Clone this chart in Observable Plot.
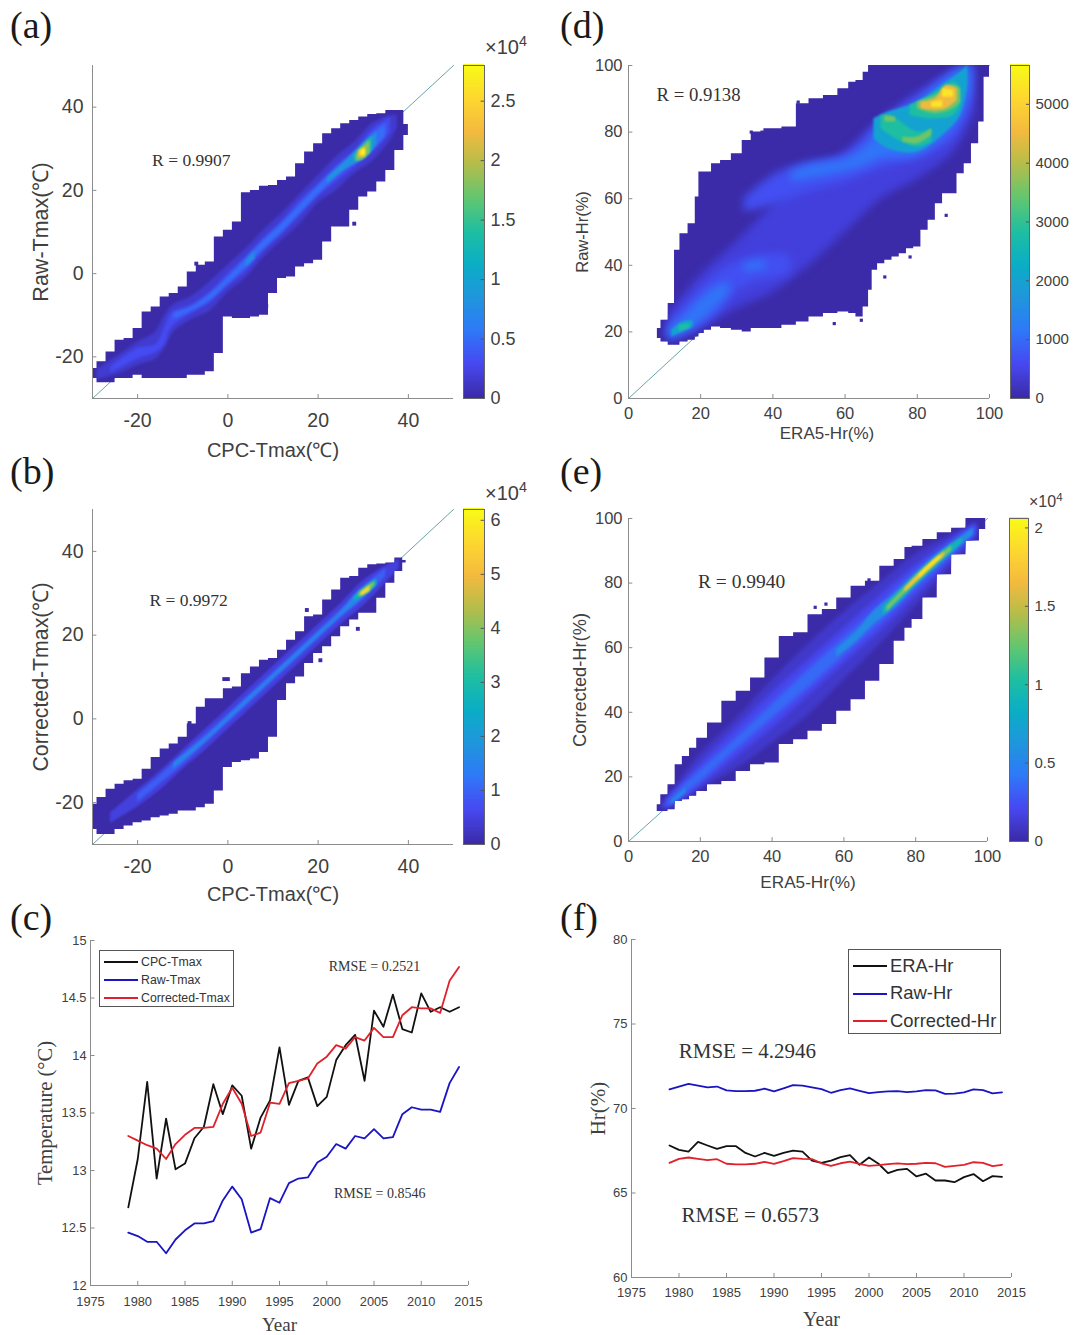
<!DOCTYPE html>
<html>
<head>
<meta charset="utf-8">
<script src="https://cdn.jsdelivr.net/npm/d3@7"></script>
<script src="https://cdn.jsdelivr.net/npm/@observablehq/plot@0.6"></script>
<style>
html,body{margin:0;padding:0;background:#fff}
#page{position:relative;width:1083px;height:1335px;overflow:hidden;background:#fff}
#page svg{position:absolute;background:transparent;overflow:visible}
.tag{position:absolute;font-family:"Liberation Serif",serif;font-size:38px;color:#1a1a1a;line-height:1}
.mult{position:absolute;font-family:"Liberation Sans",sans-serif;color:#404040;line-height:1;white-space:nowrap}
.mult sup{font-size:.72em;line-height:0}
.leg{position:absolute;box-sizing:border-box;border:1px solid #555;background:#fff;font-family:"Liberation Sans",sans-serif;color:#333}
.leg div{position:absolute;white-space:nowrap;line-height:1}
.leg i{position:absolute;display:block}
</style>
</head>
<body>
<div id="page"></div>
<script>
// ---------- colour map ----------
const parula = ["#3b2ba8","#4748f1","#2f78f8","#1f96dc","#0aaec5","#1fbfa0","#63c66f","#b4bd4a","#f4ba3e","#fdd82f","#f9fb15"];

// ---------- panel (a): [x, low, high] ----------
const aEnv = [[-30,-25.2,-22.8],[-28,-26.2,-21.2],[-26,-26.2,-18.8],[-24,-25.2,-16],[-22,-25.2,-15.6],[-20,-24.4,-13.2],[-18,-25.2,-9.2],[-16,-25.2,-8],[-14,-25.2,-5.6],[-12,-25.2,-4.8],[-10,-25.2,-3.2],[-8,-24.4,0.4],[-6,-24.4,2],[-4,-23.6,2.8],[-2,-19.2,8.8],[0,-10.4,10.4],[2,-10.8,12.4],[4,-10.8,19.4],[6,-10.4,20],[8,-10,21],[10,-4.8,21.2],[12,-1.2,22.4],[14,-0.8,23.2],[16,1.6,26.4],[18,2.4,29.2],[20,3.2,31.2],[22,7.6,33.6],[24,11.2,34.8],[26,11.2,36],[28,15.2,36.8],[30,18.4,37.6],[32,19.6,38.2],[34,22,38.4],[36,24.8,39.2],[38,29.6,39.2],[40,33.2,35.8]];
const aB1 = [[-29,-25.5,-23],[-24,-24,-19.5],[-20,-22,-16.5],[-16,-20.5,-14],[-14,-18,-10],[-12,-14,-7.5],[-8,-11,-5.5],[-4,-9,-2],[0,-4.5,2],[4,-1,6],[8,4,10.5],[12,8,14.5],[16,12,19],[20,17,23.5],[24,20,28],[28,24,31.5],[32,27,36],[36,32,38],[37.5,35,38]];
const aB2 = [[-26,-24,-22.5],[-20,-20.5,-18],[-16,-19,-17],[-14,-17,-13],[-12.5,-13,-9.5],[-8,-9.5,-7.5],[-4,-7,-4.5],[0,-3,0],[4,0.5,4],[8,5.5,8.5],[12,9.5,12.5],[16,14,17.5],[20,18.5,21.5],[24,22,26],[28,25.5,29.5],[32,29,34.5],[36,34,37.5]];
const aB3 = [[-12,-11,-9.5],[-8,-9,-8],[-4,-6.5,-5],[0,-2.5,-1],[4,1.5,3.5],[8,6,8],[12,10,12],[16,14.5,16.5],[20,19,21],[24,23,25],[28,26.5,29],[32,29.5,33.5],[35,33,36]];
const aB4 = [[4,1.5,3],[6,3.5,5.5]];
const aB5 = [[22,21.5,23],[26,25,27],[28.5,26.5,29.5],[31,28.5,32],[33,31,34]];
const aB6 = [[28,27,28.5],[30,27.5,31],[32,29.5,33]];
const aB7 = [[28.5,27,28.5],[30,27.5,30.5],[31.5,29,32]];
const aB8 = [[29,28,29.5],[30.5,28,30.5]];
const aB9 = [[29.5,28.3,29.5],[30.5,28.5,30]];
const aBands = [[0.15,aB1],[0.3,aB2],[0.5,aB3],[0.75,aB4],[0.8,aB5],[1.3,aB6],[1.8,aB7],[2.3,aB8],[2.75,aB9]];

// ---------- panel (b) ----------
const bEnv = [[-30,-26.4,-20.4],[-28,-27.6,-18.8],[-26,-27.6,-16.8],[-24,-26.4,-15.6],[-22,-25.6,-14.8],[-20,-24.8,-14.4],[-18,-24.4,-12],[-16,-23.6,-9.2],[-14,-23.2,-7.2],[-12,-22.8,-6],[-10,-22,-4.4],[-8,-22,-1.2],[-6,-21.2,2.8],[-4,-20.4,4.8],[-2,-17.2,4.8],[0,-11.6,7.2],[2,-10.4,7.6],[4,-10,10.8],[6,-9.6,12.4],[8,-8,14],[10,-4.4,14.4],[12,4.4,16.4],[14,8.4,18.8],[16,10,20.8],[18,13.2,24.4],[20,15.6,24.8],[22,17.2,28.4],[24,19.6,30.8],[26,22,33.6],[28,23.6,34],[30,25.2,36],[32,25.2,36.8],[34,28.8,37],[36,32.4,37.2],[38,35.2,38.4],[39.5,37.2,37.8]];
const bB1 = [[-26,-25,-22.5],[-20,-21,-17],[-15,-17,-12.5],[-10,-12,-7.5],[-5,-7.5,-2.5],[0,-2.5,2.5],[5,2.5,7.5],[10,7.5,12.5],[15,12.5,17.5],[20,17.5,22.5],[25,22.5,27.5],[30,27,33],[35,32.5,36.5],[38,36,38]];
const bB2 = [[-20,-20,-18],[-15,-15.5,-13.5],[-10,-11,-8.5],[-5,-6,-3.8],[0,-1,1],[5,4,6],[10,9,11],[15,14,16],[20,19,21],[25,24,26],[30,28.5,31.5],[35,34,36]];
const bB3 = [[-12,-12,-10.5],[-5,-5.5,-4.5],[0,-0.5,0.5],[5,4.5,5.5],[10,9.5,10.5],[15,14.5,15.5],[20,19.5,20.5],[25,24.5,25.5],[29,28,30.5],[33,32,33.5]];
const bB4 = [[28,28,29],[31,30,31.8],[33,32,33.3]];
const bB5 = [[29,29,30],[31,30.3,31.7],[32.5,31.8,32.8]];
const bB6 = [[29.5,29.2,30.2],[31.5,30.5,31.8]];
const bBands = [[0.45,bB1],[0.9,bB2],[1.5,bB3],[2.6,bB4],[4,bB5],[5.6,bB6]];

// ---------- panel (d) ----------
const dEnv = [[8,18,21],[10,17,23.5],[12,16,28.5],[13.5,16,44.5],[15,17,49.5],[18,17.5,52.5],[19,18.5,60.5],[20,19.5,68],[22,20.5,68],[24,21.5,70.5],[27,21,71.5],[30,20.5,73.5],[33,20,77.5],[35,21,80],[40,21,81],[45,22,81.5],[48,23,88.5],[52,24.5,90],[56,25.5,91],[60,26,93],[62,25.5,95],[64,24.5,95.5],[66,27.5,98],[67,32.5,100],[68,38.5,100],[70,40.5,100],[72,41.5,100],[74,42.5,100],[76,43.5,100],[78,45,100],[80,45.5,100],[82,50.5,100],[84,53.5,100],[86,58.5,100],[88,61.5,100],[90,61.5,100],[92,67.5,100],[94,70.5,100],[96,76.5,100],[98,83,100],[99,96.5,100],[100,96.5,100]];
const dB1 = [[11,17.5,25],[20,21,37],[30,27,47],[40,32,58],[50,40,68],[60,50,74],[70,60,84],[80,66,92],[90,74,98],[96,86,100]];
const dB2 = [[11,18,22],[15,19,27],[20,22,33],[25,26,38],[30,32,41],[35,35,43],[40,36,43.5],[45,38,43]];
const dB3 = [[32,56,60],[40,58,67],[50,62,71],[60,65,73],[70,69,83],[80,72,90],[90,78,98],[95,90,100]];
const dB4 = [[45,65,68],[50,66,70],[60,68,72],[66,70,76],[70,72,82],[80,73,89],[88,79,96],[92,84,99],[95,93,100]];
const dB5 = [[11,18,21],[15,19.5,24.5],[20,23,30],[25,28,34],[28,31.5,35]];
const dB5b = [[32,38,40.5],[38,39,41.5]];
const dB6 = [[68,78,84],[72,75,86],[80,74,89],[88,80,95],[92,85,98],[94,94,100]];
const dB7 = [[12,18.5,20.5],[15,20,23],[18,21.5,23.5]];
const dB8 = [[70,81,85],[74,78,84],[80,75.5,80],[84,77,81]];
const dB8b = [[78,85,88],[84,84,91],[90,85,95],[92,88,93.5]];
const dB9 = [[14,20,22],[17,21,22.5]];
const dB10 = [[71,83,85],[74,83,84.5]];
const dB10b = [[76,77,78.5],[80,76.5,78.5],[84,79,81]];
const dB10c = [[80,87,89],[85,85.5,91],[90,87,94],[92,89,93]];
const dB11 = [[81,87,89],[85,86.5,90],[88,87,94],[91,89.5,93]];
const dB12 = [[84,87.5,89],[87,87.5,89.5]];
const dB12b = [[87,90.5,93],[90,90.5,92.5]];
const dBands = [[400,dB1],[650,dB2],[650,dB3],[1100,dB4],[1100,dB5],[1100,dB5b],[2000,dB6],[2000,dB7],[2800,dB8],[2800,dB8b],[2800,dB9],[3500,dB10],[3500,dB10b],[3500,dB10c],[4500,dB11],[5300,dB12],[5300,dB12b]];

// ---------- panel (e) ----------
const eEnv = [[8,9.3,11.4],[10,9.3,14.5],[12,9.8,17.6],[14,12.4,23.8],[16,12.9,26.3],[18,14,28.9],[20,15.5,32],[24,17.6,36.7],[28,18.6,43.4],[32,21.7,46.5],[36,23.8,50.6],[40,24.3,56.8],[44,30,63.5],[48,31.5,64.6],[52,34.1,70.2],[56,36.2,71.8],[60,40.3,75.4],[64,43.9,79],[68,49.6,80.6],[72,54.8,85.2],[76,62,87.3],[78,66,91],[80,68.7,91.4],[84,75.4,93.5],[88,82.6,95.6],[92,88.8,97],[96,93,100],[99.5,96.6,100]];
const eB1 = [[9,9.5,11],[15,12.5,20],[20,16,27],[30,22.5,38],[40,30.5,50],[50,39,61],[60,50,71],[70,61,80],[80,73,89],[90,85,95],[97,93.5,99]];
const eB2 = [[10,10,12],[15,13,18],[20,17,24],[30,26,35],[40,35,46],[50,45,56],[60,55,66],[70,65,76],[80,76,85.5],[90,87,93.5],[97,95,98.5]];
const eB3 = [[11,10.5,12.5],[15,14,17],[20,18.5,22],[30,28.5,32],[40,38,42.5],[50,47.5,53],[60,57.5,63],[70,67.5,73],[80,78,83.5],[90,88.5,92.5],[96.5,95.5,97.5]];
const eB4 = [[12,11.5,12.5],[16,15,16.5]];
const eB4b = [[58,57,59.5],[64,62.5,65.5],[68,67,71],[75,73,77.5],[80,79,83],[85,84,88],[90,89,92],[96,95,97]];
const eB5 = [[71,70,72.5],[75,74,77],[80,79.2,82.5],[85,84.5,87.5],[90,89.5,92],[93,92.5,94]];
const eB6 = [[72,71,72.8],[76,75.6,77.4],[80,80,82],[85,85,87],[90,90,91.5]];
const eB7 = [[77,77,78.4],[80,80.2,81.8],[84,84.4,86],[88,88.5,89.7]];
const eB8 = [[81,81.5,82.5],[84,84.8,85.8],[87,87.8,88.6]];
const eBands = [[0.1,eB1],[0.2,eB2],[0.35,eB3],[0.55,eB4],[0.55,eB4b],[0.9,eB5],[1.3,eB6],[1.7,eB7],[1.95,eB8]];

// ---------- isolated cells [x, y] ----------
const bSpecks = [[-0.8,9.5],[0,9.5],[17.5,26],[28.8,21.5],[20.5,14],[-8.5,-1]];
const dSpecks = [[34,80],[37,80],[47,89],[57,22.5],[78,42.5],[88,55],[64.5,23.5],[71,36.5]];
const eSpecks = [[52,72.5],[55,73.5],[60,45],[43,63],[67,81],[75,85]];
const aSpecks = [[-7,2.4],[24,12],[28,12],[8.5,-7.8]];

// ---------- colour bar ticks ----------
const aBar = [0,0.5,1,1.5,2,2.5];
const bBar = [0,1,2,3,4,5,6];
const dBar = [0,1000,2000,3000,4000,5000];
const eBar = [0,0.5,1,1.5,2];

// ---------- annual series ----------
const years = [1979,1980,1981,1982,1983,1984,1985,1986,1987,1988,1989,1990,1991,1992,1993,1994,1995,1996,1997,1998,1999,2000,2001,2002,2003,2004,2005,2006,2007,2008,2009,2010,2011,2012,2013,2014];
const cpcTmax = [12.68,13.10,13.77,12.93,13.45,13.01,13.06,13.28,13.38,13.75,13.49,13.74,13.65,13.19,13.46,13.61,14.07,13.57,13.78,13.81,13.56,13.64,13.96,14.09,14.18,13.78,14.39,14.25,14.53,14.23,14.20,14.54,14.38,14.42,14.38,14.42];
const rawTmax = [12.46,12.43,12.38,12.38,12.28,12.40,12.48,12.54,12.54,12.56,12.74,12.86,12.75,12.46,12.49,12.76,12.72,12.89,12.93,12.94,13.07,13.12,13.23,13.19,13.30,13.28,13.36,13.28,13.29,13.49,13.55,13.53,13.53,13.51,13.76,13.90];
const corTmax = [13.30,13.26,13.22,13.19,13.10,13.23,13.31,13.37,13.37,13.38,13.58,13.72,13.58,13.30,13.33,13.59,13.58,13.76,13.78,13.80,13.93,13.99,14.09,14.06,14.16,14.13,14.24,14.16,14.16,14.35,14.42,14.41,14.41,14.37,14.65,14.77];
const eraHr = [67.81,67.55,67.45,68.02,67.81,67.61,67.77,67.77,67.37,67.16,67.37,67.2,67.37,67.51,67.45,66.92,66.78,66.92,67.12,67.24,66.67,67.1,66.73,66.18,66.37,66.43,65.98,66.14,65.74,65.74,65.64,65.94,66.12,65.7,66,65.96];
const rawHr = [71.13,71.3,71.46,71.35,71.25,71.3,71.07,71.03,71.03,71.05,71.17,71.01,71.19,71.38,71.35,71.25,71.15,70.93,71.09,71.19,71.05,70.91,70.97,71.01,71.03,70.97,71.01,71.09,71.07,70.86,70.88,70.95,71.13,71.09,70.89,70.95];
const corHr = [66.78,67.02,67.1,67.02,66.94,67,66.73,66.69,66.69,66.73,66.84,66.73,66.88,67.06,67.02,67,66.76,66.61,66.76,66.86,66.73,66.61,66.65,66.71,66.75,66.71,66.73,66.78,66.76,66.55,66.61,66.67,66.82,66.78,66.59,66.67];

const tempYearTicks = [1975,1980,1985,1990,1995,2000,2005,2010,2015];
const tempTicks = [12,12.5,13,13.5,14,14.5,15];
const hrTicks = [60,65,70,75,80];
const tmaxTicks = [-20,0,20,40];
const pctTicks = [0,20,40,60,80,100];

const SANS = '"Liberation Sans",Arial,sans-serif', SERIF = '"Liberation Serif","Times New Roman",serif';
const INK = "#404040", AXIS = "#8c8c8c";
const page = document.getElementById("page");

function place(svg, left, top){ svg.style.left = left+"px"; svg.style.top = top+"px"; page.appendChild(svg); }
function colorScale(max){
  return {type:"linear", domain: parula.map((_,i)=>max*i/(parula.length-1)), range: parula};
}
function frameMarks(xd, yd, xt, yt, o){
  const tx=(yd[1]-yd[0])*0.012, ty=(xd[1]-xd[0])*0.012;
  return [
    Plot.ruleX([xd[0]],{stroke:AXIS,strokeWidth:1}),
    Plot.ruleY([yd[0]],{stroke:AXIS,strokeWidth:1}),
    Plot.ruleX(xt,{y1:yd[0],y2:yd[0]+tx,stroke:AXIS}),
    Plot.ruleY(yt,{x1:xd[0],x2:xd[0]+ty,stroke:AXIS}),
    Plot.axisX(xt,{tickSize:0,tickPadding:o.padX,fontSize:o.tick,label:null,tickFormat:d=>String(d),color:INK}),
    Plot.axisY(yt,{tickSize:0,tickPadding:o.padY,fontSize:o.tick,label:null,tickFormat:d=>String(d),color:INK}),
    Plot.text([o.xLabel],{frameAnchor:"bottom",dx:o.xDx||0,dy:o.xDy,fontSize:o.xSize||o.labelSize,fontFamily:o.labelFont,fill:INK,textAnchor:"middle",lineAnchor:"middle"}),
    Plot.text([o.yLabel],{frameAnchor:"left",dx:o.yDx,rotate:-90,fontSize:o.ySize||o.labelSize,fontFamily:o.labelFont,fill:INK,textAnchor:"middle",lineAnchor:"middle"})
  ];
}
let clipId=0;
function density(p){
  const [ml,mr,mt,mb]=[86,12,12,72];
  const w=p.box[1]-p.box[0], h=p.box[3]-p.box[2];
  const svg=Plot.plot({
    width:w+ml+mr,height:h+mt+mb,marginLeft:ml,marginRight:mr,marginTop:mt,marginBottom:mb,
    x:{domain:p.xd},y:{domain:p.yd},color:colorScale(p.max),
    style:{fontFamily:SANS,background:"transparent",overflow:"visible"},
    marks:[
      Plot.line([[p.xd[0],p.xd[0]],[p.xd[1],p.xd[1]]],{stroke:"#6aa3a8",strokeWidth:1}),
      Plot.areaY(p.env,{x:d=>d[0],y1:d=>d[1],y2:d=>d[2],fill:parula[0],curve:"step"}),
      Plot.dot(p.specks,{x:d=>d[0],y:d=>d[1],symbol:"square",r:p.speck,fill:parula[0]}),
      ...p.bands.map(([v,t])=>Plot.areaY(t,{x:d=>d[0],y1:d=>d[1],y2:d=>d[2],fill:()=>v,curve:"catmull-rom"})),
      ...frameMarks(p.xd,p.yd,p.xt,p.yt,p),
      Plot.text([p.r],{x:p.rAt[0],y:p.rAt[1],fontFamily:SERIF,fontSize:p.rSize,fill:"#333",textAnchor:"middle",lineAnchor:"middle"})
    ]
  });
  const areas=[...svg.querySelectorAll('g[aria-label="area"]')];
  const id="env"+(clipId++);
  const cp=document.createElementNS("http://www.w3.org/2000/svg","clipPath");
  cp.setAttribute("id",id);
  cp.appendChild(areas[0].querySelector("path").cloneNode());
  svg.appendChild(cp);
  areas.slice(1).forEach((g,i)=>{
    const soft=p.bands[i][0]/p.max<0.25;
    const wrap=document.createElementNS("http://www.w3.org/2000/svg","g");
    wrap.setAttribute("clip-path",`url(#${id})`);
    g.parentNode.insertBefore(wrap,g); wrap.appendChild(g);
    g.style.filter=`blur(${soft?p.soft:1}px)`;
  });
  place(svg,p.box[0]-ml,p.box[2]-mt);
  // colour bar
  const bw=p.bar[1]-p.bar[0], bh=p.box[3]-p.box[2], n=200;
  const steps=Array.from({length:n},(_,i)=>p.max*i/n), s=p.max/n;
  const cb=Plot.plot({
    width:bw+60,height:bh+12,marginLeft:0,marginRight:60,marginTop:6,marginBottom:6,
    x:{domain:[0,1],axis:null},y:{domain:[0,p.max]},color:colorScale(p.max),
    style:{fontFamily:SANS,background:"transparent",overflow:"visible"},
    marks:[
      Plot.rect(steps,{x1:0,x2:1,y1:d=>d,y2:d=>d+s*1.5,fill:d=>d,shapeRendering:"crispEdges"}),
      Plot.ruleY(p.barT,{x1:0.84,x2:1,stroke:"#555"}),
      Plot.frame({stroke:"#666"}),
      Plot.axisY(p.barT,{anchor:"right",tickSize:0,tickPadding:p.barPad,fontSize:p.barSize,label:null,tickFormat:d=>String(d),color:INK})
    ]
  });
  place(cb,p.bar[0],p.box[2]-6);
}
function series(p){
  const [ml,mr,mt,mb]=[60,14,10,60];
  const w=p.box[1]-p.box[0], h=p.box[3]-p.box[2];
  const svg=Plot.plot({
    width:w+ml+mr,height:h+mt+mb,marginLeft:ml,marginRight:mr,marginTop:mt,marginBottom:mb,
    x:{domain:p.xd},y:{domain:p.yd},
    style:{fontFamily:SANS,background:"transparent",overflow:"visible"},
    marks:[
      ...frameMarks(p.xd,p.yd,p.xt,p.yt,p),
      ...p.lines.map(([v,c])=>Plot.line(years,{x:d=>d,y:(d,i)=>v[i],stroke:c,strokeWidth:1.8})),
      ...p.notes.map(([t,x,y])=>Plot.text([t],{x,y,fontFamily:SERIF,fontSize:p.noteSize,fill:"#333",textAnchor:"middle",lineAnchor:"middle"}))
    ]
  });
  place(svg,p.box[0]-ml,p.box[2]-mt);
}
function tag(t,x,y){const d=document.createElement("div");d.className="tag";d.textContent=t;d.style.left=x+"px";d.style.top=y+"px";page.appendChild(d);}
function mult(x,y,size){const d=document.createElement("div");d.className="mult";d.style.cssText+=`left:${x}px;top:${y}px;font-size:${size}px`;d.innerHTML="×10<sup>4</sup>";page.appendChild(d);}
function legend(box,items,size,lineW,shift){
  const b=document.createElement("div");b.className="leg";
  b.style.cssText+=`left:${box[0]}px;top:${box[1]}px;width:${box[2]}px;height:${box[3]}px;font-size:${size}px`;
  const rowH=(box[3]-2)/items.length;
  items.forEach(([t,c],i)=>{
    const cy=rowH*(i+0.5)+shift;
    const l=document.createElement("i");l.style.cssText=`left:4px;top:${cy-1}px;width:${lineW}px;height:2px;background:${c}`;b.appendChild(l);
    const s=document.createElement("div");s.textContent=t;s.style.cssText=`left:${lineW+7}px;top:${cy-size/2}px`;b.appendChild(s);
  });
  page.appendChild(b);
}

density({box:[92,453,65,398],xd:[-30,50],yd:[-30,50],xt:tmaxTicks,yt:[-20,0,20,40],env:aEnv,bands:aBands,specks:aSpecks,speck:2.2,max:2.8,soft:1.4,
  tick:19.5,padX:15,padY:9,labelSize:20,ySize:21.5,labelFont:SANS,xLabel:"CPC-Tmax(℃)",yLabel:"Raw-Tmax(℃)",xDy:52,yDx:-51,
  r:"R = 0.9907",rAt:[-8.1,27.2],rSize:17.5,bar:[463,484],barT:aBar,barPad:6,barSize:18});
density({box:[92,453,509,844],xd:[-30,50],yd:[-30,50],xt:tmaxTicks,yt:[-20,0,20,40],env:bEnv,bands:bBands,specks:bSpecks,speck:2.2,max:6.2,soft:1.2,
  tick:19.5,padX:15,padY:9,labelSize:20,ySize:21.3,labelFont:SANS,xLabel:"CPC-Tmax(℃)",yLabel:"Corrected-Tmax(℃)",xDy:50,yDx:-51,
  r:"R = 0.9972",rAt:[-8.7,28.3],rSize:17.5,bar:[463,484],barT:bBar,barPad:6,barSize:18});
density({box:[628,989,65,398],xd:[0,100],yd:[0,100],xt:pctTicks,yt:pctTicks,env:dEnv,bands:dBands,specks:dSpecks,speck:1.8,max:5660,soft:4,
  tick:16.5,padX:9,padY:6,labelSize:16.5,xSize:17,xDx:18,labelFont:SANS,xLabel:"ERA5-Hr(%)",yLabel:"Raw-Hr(%)",xDy:35,yDx:-46,
  r:"R = 0.9138",rAt:[19.4,91.3],rSize:18.8,bar:[1010,1029],barT:dBar,barPad:6,barSize:15});
density({box:[628,987,518,841],xd:[0,100],yd:[0,100],xt:pctTicks,yt:pctTicks,env:eEnv,bands:eBands,specks:eSpecks,speck:1.8,max:2.06,soft:2,
  tick:16.5,padX:9,padY:6,labelSize:17.2,ySize:18.3,labelFont:SANS,xLabel:"ERA5-Hr(%)",yLabel:"Corrected-Hr(%)",xDy:41,yDx:-48,
  r:"R = 0.9940",rAt:[31.5,80.5],rSize:19.5,bar:[1009,1028],barT:eBar,barPad:6,barSize:15});

series({box:[90,468,940,1285],xd:[1975,2015],yd:[12,15],xt:tempYearTicks,yt:tempTicks,
  tick:12.8,padX:11,padY:4,labelSize:19,ySize:20.5,labelFont:SERIF,xLabel:"Year",yLabel:"Temperature (°C)",xDy:39,yDx:-45,
  lines:[[cpcTmax,"#111"],[rawTmax,"#1a14c4"],[corTmax,"#e0202a"]],noteSize:14,
  notes:[["RMSE = 0.2521",2005.05,14.77],["RMSE = 0.8546",2005.6,12.8]]});
series({box:[631,1011,939,1277],xd:[1975,2015],yd:[60,80],xt:tempYearTicks,yt:hrTicks,
  tick:13,padX:10,padY:4,labelSize:20,ySize:21,labelFont:SERIF,xLabel:"Year",yLabel:"Hr(%)",xDy:42,yDx:-33,
  lines:[[eraHr,"#111"],[rawHr,"#1a14c4"],[corHr,"#e0202a"]],noteSize:21,
  notes:[["RMSE = 4.2946",1987.2,73.4],["RMSE = 0.6573",1987.5,63.67]]});

legend([99,950,135,57],[["CPC-Tmax","#111"],["Raw-Tmax","#1a14c4"],["Corrected-Tmax","#e0202a"]],12.3,34,1.5);
legend([848,949,153,85],[["ERA-Hr","#111"],["Raw-Hr","#1a14c4"],["Corrected-Hr","#e0202a"]],18.4,34,2);

tag("(a)",10,6);tag("(b)",10,452);tag("(c)",10,898);tag("(d)",560,6);tag("(e)",560,452);tag("(f)",560,898);
mult(485,37,20);mult(485,483,20);mult(1029,494,16);
</script>
</body>
</html>
